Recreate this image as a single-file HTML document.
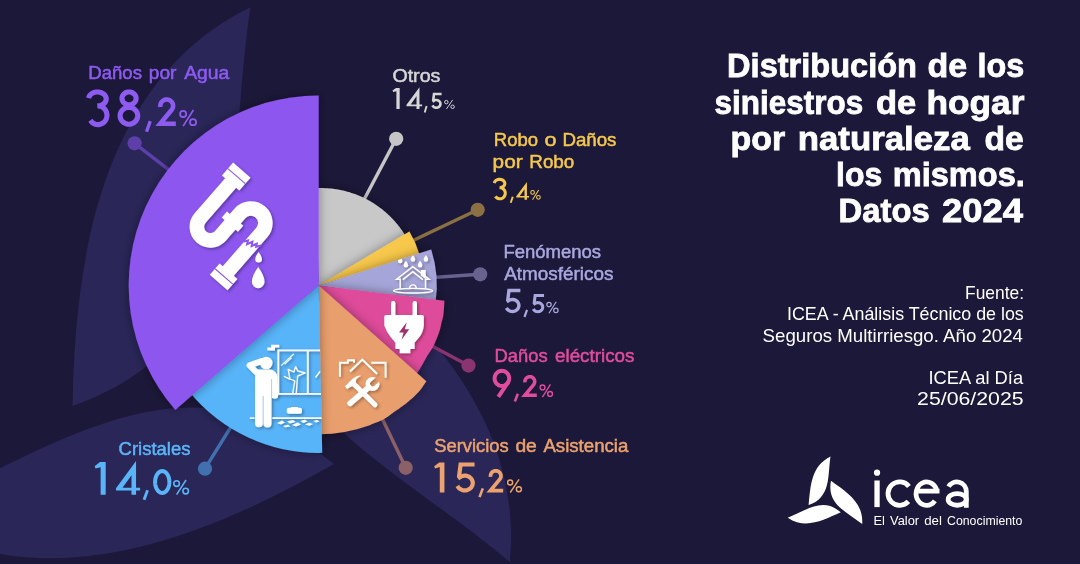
<!DOCTYPE html>
<html><head><meta charset="utf-8"><style>
html,body{margin:0;padding:0;background:#1c1839;}
svg{display:block;}
text{font-family:"Liberation Sans",sans-serif;}
</style></head><body>
<svg width="1080" height="564" viewBox="0 0 1080 564">
<defs>
<filter id="sh" x="-30%" y="-30%" width="160%" height="160%"><feDropShadow dx="0" dy="0" stdDeviation="5.5" flood-color="#000" flood-opacity="0.38"/></filter>
<filter id="ish" x="-20%" y="-20%" width="140%" height="140%"><feDropShadow dx="1.5" dy="1.5" stdDeviation="1.6" flood-color="#000" flood-opacity="0.35"/></filter>
<clipPath id="clipLav"><path d="M318.70 285.40 L431.21 249.49 A118.1 118.1 0 0 1 435.92 299.79 Z"/></clipPath>
</defs>
<rect width="1080" height="564" fill="#1c1839"/>
<path d="M3.72 -43.06 C-14.43 -34.17 -17.74 -12.74 -18.02 5.67 C4.5 -2.25 0.7 -23.2 3.72 -43.06 Z" transform=" translate(220 359.6) scale(8.18) rotate(0)" fill="#2a2658"/>
<path d="M3.72 -43.06 C-14.43 -34.17 -17.74 -12.74 -18.02 5.67 C4.5 -2.25 0.7 -23.2 3.72 -43.06 Z" transform="rotate(1.5 509.7 562) translate(220 359.6) scale(8.18) rotate(120)" fill="#2a2658"/>
<path d="M3.72 -43.06 C-14.43 -34.17 -17.74 -12.74 -18.02 5.67 C4.5 -2.25 0.7 -23.2 3.72 -43.06 Z" transform="rotate(-0.65 332 463) translate(220 359.6) scale(8.18) rotate(240)" fill="#2a2658"/>
<line x1="134.6" y1="143.3" x2="318.7" y2="285.4" stroke="#5d3fa9" stroke-width="3.4"/>
<line x1="396.2" y1="138.8" x2="318.7" y2="285.4" stroke="#c6c6c6" stroke-width="3.4"/>
<line x1="477.7" y1="209.8" x2="318.7" y2="285.4" stroke="#8a7042" stroke-width="3.4"/>
<line x1="480.2" y1="274.3" x2="318.7" y2="285.4" stroke="#66648f" stroke-width="3.4"/>
<line x1="468.5" y1="365.6" x2="318.7" y2="285.4" stroke="#8a3470" stroke-width="3.4"/>
<line x1="405.7" y1="467.8" x2="318.7" y2="285.4" stroke="#8b6066" stroke-width="3.4"/>
<line x1="205.0" y1="468.7" x2="318.7" y2="285.4" stroke="#4170ae" stroke-width="3.4"/>
<circle cx="134.6" cy="143.3" r="7.1" fill="#5d3fa9"/>
<circle cx="396.2" cy="138.8" r="7.1" fill="#c6c6c6"/>
<circle cx="477.7" cy="209.8" r="7.1" fill="#8a7042"/>
<circle cx="480.2" cy="274.3" r="7.1" fill="#66648f"/>
<circle cx="468.5" cy="365.6" r="7.1" fill="#8a3470"/>
<circle cx="405.7" cy="467.8" r="7.1" fill="#8b6066"/>
<circle cx="205.0" cy="468.7" r="7.1" fill="#4170ae"/>
<path d="M318.7 285.4 L316.15 188.13 L317.00 188.11 L317.85 188.10 L318.70 188.10 L319.55 188.08 L320.40 188.07 L321.25 188.07 L322.10 188.07 L322.95 188.08 L323.80 188.10 L324.65 188.13 L325.50 188.17 L326.35 188.21 L327.20 188.26 L328.05 188.31 L328.90 188.38 L329.75 188.45 L330.59 188.53 L331.44 188.61 L332.29 188.71 L333.14 188.81 L333.98 188.91 L334.83 189.03 L335.67 189.15 L336.51 189.28 L337.36 189.42 L338.20 189.57 L339.04 189.72 L339.88 189.88 L340.71 190.05 L341.55 190.22 L342.38 190.40 L343.22 190.59 L344.05 190.79 L344.88 190.99 L345.71 191.21 L346.54 191.42 L347.36 191.65 L348.19 191.88 L349.01 192.12 L349.83 192.37 L350.64 192.63 L351.46 192.89 L352.27 193.16 L353.08 193.43 L353.89 193.72 L354.70 194.01 L355.50 194.31 L356.31 194.61 L357.11 194.92 L357.90 195.24 L358.70 195.57 L359.49 195.90 L360.28 196.24 L361.06 196.59 L361.84 196.94 L362.62 197.30 L363.40 197.67 L364.18 198.04 L364.95 198.42 L365.71 198.81 L366.48 199.21 L367.24 199.61 L368.00 200.02 L368.75 200.43 L369.50 200.85 L370.25 201.28 L370.99 201.72 L371.73 202.16 L372.47 202.60 L373.20 203.06 L373.93 203.52 L374.65 203.99 L375.37 204.46 L376.09 204.94 L376.80 205.43 L377.51 205.92 L378.22 206.42 L378.92 206.92 L379.61 207.44 L380.30 207.95 L380.99 208.48 L381.67 209.01 L382.35 209.54 L383.03 210.09 L383.69 210.63 L384.36 211.19 L385.02 211.75 L385.67 212.31 L386.32 212.88 L386.97 213.46 L387.61 214.04 L388.24 214.63 L388.87 215.23 L389.50 215.83 L390.12 216.43 L390.73 217.04 L391.34 217.66 L391.95 218.28 L392.55 218.91 L393.14 219.54 L393.73 220.18 L394.31 220.82 L394.89 221.47 L395.46 222.13 L396.02 222.78 L396.59 223.45 L397.14 224.12 L397.69 224.79 L398.23 225.47 L398.77 226.15 L399.30 226.84 L399.83 227.53 L400.35 228.23 L400.86 228.93 L401.37 229.64 L401.87 230.35 L402.36 231.07 L402.85 231.79 L403.34 232.51 L403.81 233.24 L404.28 233.98 L404.75 234.71 L405.20 235.46 L405.66 236.20 Z" fill="#c8c8c8" filter="url(#sh)"/>
<path d="M318.70 285.40 L409.41 231.54 A105.5 105.5 0 0 1 419.86 255.44 Z" fill="#f8c84b" filter="url(#sh)"/>
<path d="M318.70 285.40 L431.21 249.49 A118.1 118.1 0 0 1 435.50 302.86 Z" fill="#a5a5d9" filter="url(#sh)"/>
<path d="M318.7 285.4 L444.40 300.80 L444.34 301.96 L444.25 303.62 L444.15 305.53 L444.03 307.47 L443.90 309.20 L443.78 310.70 L443.65 312.13 L443.51 313.52 L443.33 314.90 L443.10 316.30 L442.80 317.72 L442.44 319.14 L442.05 320.56 L441.66 321.98 L441.30 323.40 L440.99 324.80 L440.72 326.18 L440.45 327.57 L440.12 329.00 L439.70 330.50 L439.18 332.09 L438.57 333.75 L437.91 335.45 L437.22 337.17 L436.50 338.90 L435.78 340.63 L435.04 342.39 L434.26 344.15 L433.42 345.93 L432.50 347.70 L431.46 349.47 L430.30 351.25 L429.10 353.04 L427.92 354.82 L426.80 356.60 L425.76 358.41 L424.76 360.25 L423.79 362.07 L422.84 363.84 L421.90 365.50 L420.98 367.07 L420.08 368.58 L419.21 370.00 L418.35 371.35 L417.50 372.60 L416.61 373.80 L415.68 374.95 L414.79 376.00 L414.04 376.87 L413.50 377.50 Z" fill="#de4b9a" filter="url(#sh)"/>
<path d="M318.7 285.4 L426.30 381.30 L425.47 382.54 L424.32 384.29 L422.95 386.34 L421.44 388.45 L419.90 390.40 L418.28 392.22 L416.52 394.07 L414.67 395.89 L412.81 397.64 L411.00 399.30 L409.24 400.83 L407.48 402.27 L405.72 403.64 L403.96 404.98 L402.20 406.30 L400.43 407.61 L398.65 408.88 L396.86 410.12 L395.08 411.36 L393.30 412.60 L391.61 413.84 L390.02 415.08 L388.39 416.31 L386.56 417.55 L384.40 418.80 L381.58 420.17 L378.19 421.66 L374.73 423.11 L371.70 424.35 L369.59 425.23 A148.8 148.8 0 0 1 317.92 434.20 Z" fill="#e99f6d" filter="url(#sh)"/>
<path d="M318.70 285.40 L322.21 452.86 A167.5 167.5 0 0 1 189.45 391.94 Z" fill="#58b4f9" filter="url(#sh)"/>
<path d="M318.70 285.40 L175.31 410.05 A190.0 190.0 0 0 1 318.70 95.40 Z" fill="#8c56ef" filter="url(#sh)"/>
<g id="ic-pipe" filter="url(#ish)">
 <g transform="translate(230 183.7) rotate(41)">
  <path d="M0 -2 L0 45.5 A13.5 13.5 0 0 0 27 45.5 L27 16 A14.5 14.5 0 0 1 56 16 L56 68" fill="none" stroke="#fff" stroke-width="14.6"/>
  <rect x="-11.5" y="-18" width="23" height="17" fill="#fff"/>
  <line x1="-11.5" y1="-10" x2="11.5" y2="-10" stroke="#8c56ef" stroke-width="1.1"/>
  <rect x="16" y="23" width="21.5" height="8" fill="#fff"/>
  <rect x="44.5" y="67" width="23.5" height="15" fill="#fff"/>
  <line x1="44.5" y1="74" x2="68" y2="74" stroke="#8c56ef" stroke-width="1.1"/>
  <polyline points="48.3,34.8 50.8,31 52.6,34.5 55,29.2 57.2,32.8 59.6,27.8 61.2,30.5 63.8,26.2" fill="none" stroke="#8c56ef" stroke-width="2" stroke-linejoin="miter"/>
 </g>
 <path d="M258.6 252 Q261.9 256.5 261.9 259.2 A3.25 3.25 0 0 1 255.3 259.2 Q255.3 256.5 258.6 252 Z" fill="#fff"/>
 <path d="M258.2 266.9 Q264.5 275.5 264.5 281.9 A6.3 6.3 0 0 1 251.9 281.9 Q251.9 275.5 258.2 266.9 Z" fill="#fff"/>
</g>
<g id="ic-house" filter="url(#ish)" clip-path="url(#clipLav)">
 <g fill="#fff">
  <path d="M400.2 256.4 Q402.45 259.2 402.45 260.9 A2.25 2.25 0 0 1 397.95 260.9 Q397.95 259.2 400.2 256.4 Z"/>
  <path d="M412.9 254.9 Q415.15 257.7 415.15 259.4 A2.25 2.25 0 0 1 410.65 259.4 Q410.65 257.7 412.9 254.9 Z"/>
  <path d="M425.9 254.9 Q428.15 257.7 428.15 259.4 A2.25 2.25 0 0 1 423.65 259.4 Q423.65 257.7 425.9 254.9 Z"/>
  <path d="M405.9 260.7 Q408.15 263.5 408.15 265.2 A2.25 2.25 0 0 1 403.65 265.2 Q403.65 263.5 405.9 260.7 Z"/>
  <path d="M420.1 260.7 Q422.35 263.5 422.35 265.2 A2.25 2.25 0 0 1 417.85 265.2 Q417.85 263.5 420.1 260.7 Z"/>
  <path d="M420.9 275.4 L420.9 270.1 L425.7 270.1 L425.7 279 Z"/>
 </g>
 <g fill="none" stroke="#fff" stroke-width="1.4" stroke-linejoin="miter">
  <polyline points="400.2,288.8 400.2,279.3 396.6,279.3 412.8,266.6 429.2,279.3 425.5,279.3 425.5,288.8"/>
  <polyline points="402.9,279.6 412.8,271.6 422.8,279.6"/>
  <path d="M409.6 288.2 A3.3 3.3 0 0 1 416.2 288.2"/>
  <ellipse cx="413.1" cy="290.7" rx="19.5" ry="2.3" stroke-width="1.3"/>
 </g>
</g>
<g id="ic-plug" filter="url(#ish)">
 <g fill="#fff">
  <path d="M391 315.5 L391 303.2 A2.2 2.2 0 0 1 395.4 303.2 L395.4 315.5 Z"/>
  <path d="M412.6 315.5 L412.6 303.2 A2.2 2.2 0 0 1 417 303.2 L417 315.5 Z"/>
  <path d="M386 315 L422.2 315 Q423.8 315 423.8 316.6 L423.8 325.7 Q423 333 419 337.5 Q416.5 340.5 414.6 342.7 L414.6 349.1 L410.3 349.1 L410.3 353.3 L399.7 353.3 L399.7 349.1 L395.4 349.1 L395.4 342.7 Q393.5 340.5 391 337.5 Q387 333 384.3 325.7 L384.3 316.6 Q384.3 315 386 315 Z"/>
 </g>
 <path d="M406.8 322.3 L399.0 332.6 L403.6 332.6 L401.6 339.8 L409.2 329.2 L404.8 329.2 Z" fill="#9d2f6d"/>
</g>
<g id="ic-tools" filter="url(#ish)">
 <g fill="none" stroke="#fff" stroke-width="1.9" stroke-linejoin="miter">
  <polyline points="339.9,376.8 339.9,362.8 347.9,362.8 347.9,360.3 354,360.3 354,362.8"/>
  <polyline points="350,371.4 362.3,359.6 377.2,373.9" stroke-width="2.1"/>
  <polyline points="371.2,362.8 385.6,362.8 385.6,377.8"/>
 </g>
 <line x1="356.5" y1="386.5" x2="375" y2="404.8" stroke="#fff" stroke-width="5" stroke-linecap="round"/>
 <path d="M344.9 386.3 L347 384.5 L349.4 381.8 Q352.5 377.6 357.3 375.9 Q359.5 375.3 361.2 375.7 Q357.6 377.3 356.2 379.6 Q355.3 381.6 356.5 383.6 L358.3 385.3 L355.3 388.3 L352 386.2 L349.4 387.6 L347.2 389.2 Z" fill="#fff"/>
 <mask id="wmask" maskUnits="userSpaceOnUse" x="340" y="360" width="60" height="60"><rect x="340" y="360" width="60" height="60" fill="#fff"/><g transform="translate(372.5 384) rotate(49.1)"><path d="M-2.7 -12 L2.7 -12 L2.7 -0.3 A2.7 2.7 0 0 1 -2.7 -0.3 Z" fill="#000"/></g></mask>
 <g mask="url(#wmask)"><g transform="translate(372.5 384) rotate(49.1)" fill="#fff">
  <circle cx="0" cy="0" r="7"/>
 </g></g>
 <g transform="translate(372.5 384) rotate(49.1)">
  <line x1="0" y1="5" x2="0" y2="29.6" stroke="#fff" stroke-width="5.6" stroke-linecap="round"/>
 </g>
</g>
<clipPath id="clipBlue"><path d="M318.7 285.4 L322.2 452.4 A167 167 0 0 1 192.7 395.0 Z"/></clipPath>
<g id="ic-glass" filter="url(#ish)" clip-path="url(#clipBlue)">
 <g fill="#fff">
  <circle cx="266.2" cy="363" r="6.3"/>
  <path d="M255.1 396 L255.1 372 Q255.1 369.5 257.6 369.5 L269.5 369.5 Q276.3 369.8 277.6 377 L278.1 395.4 A3.25 3.25 0 0 1 271.6 395.4 L271.6 396 Z"/>
  <path d="M255.1 394 L262.8 394 L262.8 423.4 A3.85 3.85 0 0 1 255.1 423.4 Z"/>
  <path d="M263.4 394 L271.5 394 L271.5 423.4 A4.05 4.05 0 0 1 263.4 423.4 Z"/>
  <path d="M267.3 350.4 L267.3 347.6 L271 347.6 L271 344.8 L279.3 344.8 L279.3 347.6 L275 347.6 L275 350.4 Z"/>
  <path d="M286.8 409.6 Q286.8 407.8 289 407.8 L291 407.8 L291 406.9 L298 406.9 L298 407.8 L300 407.8 Q302 407.8 302 409.6 L302 412 Q302 413.8 300 413.8 L289 413.8 Q286.8 413.8 286.8 412 Z"/>
  <path d="M277 423 L282 420.5 L285 422.5 L281 424.5 Z M287 421.5 L293 420 L295.5 422 L290 423.5 Z M292 425 L297.5 422.5 L301 424.5 L296 426.5 Z M300.5 421 L305 419.8 L307.5 421.5 L303.5 423 Z M305 424.5 L309 422.8 L313 424 L309.5 425.8 Z M283 426 L288 424.8 L290.5 426.5 L285.5 427.3 Z M313.5 421 L317 420 L319.5 421.5 L316 422.5 Z"/>
 </g>
 <polyline points="256.5,372.5 249.6,365.4 261.5,361.2" fill="none" stroke="#fff" stroke-width="6" stroke-linecap="round" stroke-linejoin="round"/>
 <line x1="271.6" y1="379" x2="271.6" y2="396" stroke="#58b4f9" stroke-width="0.6"/>
 <g fill="none" stroke="#fff">
  <rect x="278.3" y="350.4" width="60" height="43.5" stroke-width="1.8"/>
  <line x1="307.8" y1="350.4" x2="307.8" y2="393.9" stroke-width="1.9"/>
  <line x1="249.8" y1="418.1" x2="254.5" y2="418.1" stroke-width="1.6"/>
  <line x1="272.5" y1="418.1" x2="322" y2="418.1" stroke-width="1.6"/>
  <polyline points="292.6,393.9 294.8,381 284.4,376.5 290,379.4 288.2,369.3 293.8,372 295.6,366.6 297.8,371 305.2,372.8 297.6,376.2 296.2,393.9" stroke-width="1.3" stroke-linejoin="round"/>
  <line x1="281.2" y1="365.6" x2="293.8" y2="353.8" stroke-width="1.1"/>
  <line x1="284.6" y1="364.2" x2="291.6" y2="357.8" stroke-width="1.1"/>
  <line x1="315.5" y1="377.5" x2="320.3" y2="371.2" stroke-width="1.4"/>
 </g>
</g>

<path d="M3.7 -43 C-16.1 -33.2 -16.1 -13.1 -18.2 5.7 C4.5 -2.25 0.7 -23.2 3.7 -43 Z" transform=" translate(826.8 499.4) scale(1) rotate(0)" fill="#ffffff"/>
<path d="M3.7 -43 C-16.1 -33.2 -16.1 -13.1 -18.2 5.7 C4.5 -2.25 0.7 -23.2 3.7 -43 Z" transform=" translate(826.8 499.4) scale(1) rotate(120)" fill="#ffffff"/>
<path d="M3.7 -43 C-16.1 -33.2 -16.1 -13.1 -18.2 5.7 C4.5 -2.25 0.7 -23.2 3.7 -43 Z" transform=" translate(826.8 499.4) scale(1) rotate(240)" fill="#ffffff"/>
<g style="will-change:transform">
<text x="88.20" y="79.4" font-size="18" fill="#8e5bf1" stroke="#8e5bf1" stroke-width="0.5" textLength="53.80" lengthAdjust="spacingAndGlyphs">Daños</text>
<text x="148.80" y="79.4" font-size="18" fill="#8e5bf1" stroke="#8e5bf1" stroke-width="0.5" textLength="27.60" lengthAdjust="spacingAndGlyphs">por</text>
<text x="184.20" y="79.4" font-size="18" fill="#8e5bf1" stroke="#8e5bf1" stroke-width="0.5" textLength="45.20" lengthAdjust="spacingAndGlyphs">Agua</text>
<text x="392.40" y="81.5" font-size="18" fill="#d6d6d6" stroke="#d6d6d6" stroke-width="0.5" textLength="48.00" lengthAdjust="spacingAndGlyphs">Otros</text>
<text x="493.80" y="145.5" font-size="18" fill="#f5c84d" stroke="#f5c84d" stroke-width="0.5" textLength="44.20" lengthAdjust="spacingAndGlyphs">Robo</text>
<text x="544.60" y="145.5" font-size="18" fill="#f5c84d" stroke="#f5c84d" stroke-width="0.5" textLength="12.00" lengthAdjust="spacingAndGlyphs">o</text>
<text x="562.40" y="145.5" font-size="18" fill="#f5c84d" stroke="#f5c84d" stroke-width="0.5" textLength="54.00" lengthAdjust="spacingAndGlyphs">Daños</text>
<text x="492.60" y="167.8" font-size="18" fill="#f5c84d" stroke="#f5c84d" stroke-width="0.5" textLength="30.00" lengthAdjust="spacingAndGlyphs">por</text>
<text x="529.30" y="167.8" font-size="18" fill="#f5c84d" stroke="#f5c84d" stroke-width="0.5" textLength="45.00" lengthAdjust="spacingAndGlyphs">Robo</text>
<text x="503.40" y="257.6" font-size="18" fill="#a8a8de" stroke="#a8a8de" stroke-width="0.5" textLength="97.60" lengthAdjust="spacingAndGlyphs">Fenómenos</text>
<text x="504.20" y="280.2" font-size="18" fill="#a8a8de" stroke="#a8a8de" stroke-width="0.5" textLength="109.20" lengthAdjust="spacingAndGlyphs">Atmosféricos</text>
<text x="494.60" y="361.9" font-size="18" fill="#e04d9d" stroke="#e04d9d" stroke-width="0.5" textLength="53.00" lengthAdjust="spacingAndGlyphs">Daños</text>
<text x="555.00" y="361.9" font-size="18" fill="#e04d9d" stroke="#e04d9d" stroke-width="0.5" textLength="79.40" lengthAdjust="spacingAndGlyphs">eléctricos</text>
<text x="434.20" y="452.3" font-size="18" fill="#eca26f" stroke="#eca26f" stroke-width="0.5" textLength="74.60" lengthAdjust="spacingAndGlyphs">Servicios</text>
<text x="515.40" y="452.3" font-size="18" fill="#eca26f" stroke="#eca26f" stroke-width="0.5" textLength="21.40" lengthAdjust="spacingAndGlyphs">de</text>
<text x="543.40" y="452.3" font-size="18" fill="#eca26f" stroke="#eca26f" stroke-width="0.5" textLength="85.00" lengthAdjust="spacingAndGlyphs">Asistencia</text>
<text x="118.60" y="455.0" font-size="18" fill="#5ab5f8" stroke="#5ab5f8" stroke-width="0.5" textLength="71.80" lengthAdjust="spacingAndGlyphs">Cristales</text>
<text x="727.10" y="77.4" font-size="32.5" fill="#ffffff" font-weight="bold" stroke="#fff" stroke-width="0.8" textLength="189.90" lengthAdjust="spacingAndGlyphs">Distribución</text>
<text x="927.50" y="77.4" font-size="32.5" fill="#ffffff" font-weight="bold" stroke="#fff" stroke-width="0.8" textLength="39.70" lengthAdjust="spacingAndGlyphs">de</text>
<text x="977.50" y="77.4" font-size="32.5" fill="#ffffff" font-weight="bold" stroke="#fff" stroke-width="0.8" textLength="46.80" lengthAdjust="spacingAndGlyphs">los</text>
<text x="714.60" y="113.7" font-size="32.5" fill="#ffffff" font-weight="bold" stroke="#fff" stroke-width="0.8" textLength="148.60" lengthAdjust="spacingAndGlyphs">siniestros</text>
<text x="875.90" y="113.7" font-size="32.5" fill="#ffffff" font-weight="bold" stroke="#fff" stroke-width="0.8" textLength="40.30" lengthAdjust="spacingAndGlyphs">de</text>
<text x="926.40" y="113.7" font-size="32.5" fill="#ffffff" font-weight="bold" stroke="#fff" stroke-width="0.8" textLength="98.00" lengthAdjust="spacingAndGlyphs">hogar</text>
<text x="730.60" y="149.9" font-size="32.5" fill="#ffffff" font-weight="bold" stroke="#fff" stroke-width="0.8" textLength="54.60" lengthAdjust="spacingAndGlyphs">por</text>
<text x="797.80" y="149.9" font-size="32.5" fill="#ffffff" font-weight="bold" stroke="#fff" stroke-width="0.8" textLength="172.00" lengthAdjust="spacingAndGlyphs">naturaleza</text>
<text x="984.50" y="149.9" font-size="32.5" fill="#ffffff" font-weight="bold" stroke="#fff" stroke-width="0.8" textLength="39.30" lengthAdjust="spacingAndGlyphs">de</text>
<text x="836.10" y="186.1" font-size="32.5" fill="#ffffff" font-weight="bold" stroke="#fff" stroke-width="0.8" textLength="46.20" lengthAdjust="spacingAndGlyphs">los</text>
<text x="892.70" y="186.1" font-size="32.5" fill="#ffffff" font-weight="bold" stroke="#fff" stroke-width="0.8" textLength="132.10" lengthAdjust="spacingAndGlyphs">mismos.</text>
<text x="838.60" y="222.0" font-size="32.5" fill="#ffffff" font-weight="bold" stroke="#fff" stroke-width="0.8" textLength="91.10" lengthAdjust="spacingAndGlyphs">Datos</text>
<text x="942.00" y="222.0" font-size="32.5" fill="#ffffff" font-weight="bold" stroke="#fff" stroke-width="0.8" textLength="81.00" lengthAdjust="spacingAndGlyphs">2024</text>
<text x="965.00" y="298.9" font-size="18.5" fill="#ffffff" textLength="59.00" lengthAdjust="spacingAndGlyphs">Fuente:</text>
<text x="787.00" y="320.1" font-size="18.5" fill="#ffffff" textLength="236.80" lengthAdjust="spacingAndGlyphs">ICEA - Análisis Técnico de los</text>
<text x="762.60" y="341.5" font-size="18.5" fill="#ffffff" textLength="260.40" lengthAdjust="spacingAndGlyphs">Seguros Multirriesgo. Año 2024</text>
<text x="928.40" y="384.1" font-size="18.5" fill="#ffffff" textLength="94.70" lengthAdjust="spacingAndGlyphs">ICEA al Día</text>
<text x="917.10" y="404.5" font-size="18.5" fill="#ffffff" textLength="106.50" lengthAdjust="spacingAndGlyphs">25/06/2025</text>
<text x="873.40" y="524.7" font-size="12.9" fill="#ffffff" textLength="11.50" lengthAdjust="spacingAndGlyphs">El</text>
<text x="890.00" y="524.7" font-size="12.9" fill="#ffffff" textLength="29.10" lengthAdjust="spacingAndGlyphs">Valor</text>
<text x="924.20" y="524.7" font-size="12.9" fill="#ffffff" textLength="17.70" lengthAdjust="spacingAndGlyphs">del</text>
<text x="947.00" y="524.7" font-size="12.9" fill="#ffffff" textLength="75.40" lengthAdjust="spacingAndGlyphs">Conocimiento</text>
</g>
<path d="M88.65 98.21 L88.99 96.90 L89.63 95.67 L90.56 94.55 L91.75 93.60 L93.14 92.84 L94.69 92.31 L96.34 92.02 L98.02 91.99 L99.69 92.21 L101.27 92.67 L102.71 93.37 L103.96 94.28 L104.96 95.35 L105.69 96.56 L106.11 97.85 L106.21 99.19 L105.99 100.51 L105.46 101.78 L104.63 102.94 L103.53 103.96 L102.21 104.79 L100.71 105.41 L99.09 105.79 L97.41 105.91 L97.96 105.91 L99.20 106.00 L100.41 106.27 L101.57 106.70 L102.67 107.30 L103.68 108.05 L104.58 108.94 L105.35 109.95 L105.99 111.05 L106.47 112.24 L106.79 113.49 L106.94 114.77 L106.92 116.06 L106.73 117.33 L106.38 118.57 L105.86 119.74 L105.20 120.83 L104.40 121.81 L103.47 122.67 L102.44 123.39 L101.33 123.95 L100.15 124.35 L98.93 124.58 L97.69 124.63 L96.46 124.50 L95.26 124.20 L94.10 123.73 L93.02 123.10 L92.04 122.31 L91.16 121.40 L90.42 120.37" stroke="#8e5bf1" stroke-width="5.14" fill="none"/>
<path d="M136.10 98.39 L136.01 97.39 L135.75 96.41 L135.33 95.48 L134.75 94.62 L134.03 93.85 L133.19 93.20 L132.25 92.67 L131.23 92.28 L130.15 92.05 L129.05 91.97 L127.95 92.05 L126.87 92.28 L125.85 92.67 L124.91 93.20 L124.07 93.85 L123.35 94.62 L122.77 95.48 L122.35 96.41 L122.09 97.39 L122.00 98.39 L122.09 99.40 L122.35 100.38 L122.77 101.31 L123.35 102.17 L124.07 102.93 L124.91 103.59 L125.85 104.11 L126.87 104.50 L127.95 104.73 L129.05 104.81 L130.15 104.73 L131.23 104.50 L132.25 104.11 L133.19 103.59 L134.03 102.93 L134.75 102.17 L135.33 101.31 L135.75 100.38 L136.01 99.40 L136.10 98.39 Z" stroke="#8e5bf1" stroke-width="5.14" fill="none"/>
<path d="M137.71 115.75 L137.60 114.43 L137.28 113.14 L136.75 111.92 L136.03 110.79 L135.13 109.78 L134.08 108.92 L132.90 108.23 L131.63 107.72 L130.28 107.41 L128.90 107.31 L127.53 107.41 L126.18 107.72 L124.90 108.23 L123.73 108.92 L122.68 109.78 L121.78 110.79 L121.06 111.92 L120.53 113.14 L120.20 114.43 L120.10 115.75 L120.20 117.07 L120.53 118.36 L121.06 119.58 L121.78 120.71 L122.68 121.72 L123.73 122.58 L124.90 123.27 L126.18 123.78 L127.53 124.09 L128.90 124.19 L130.28 124.09 L131.63 123.78 L132.90 123.27 L134.08 122.58 L135.13 121.72 L136.03 120.71 L136.75 119.58 L137.28 118.36 L137.60 117.07 L137.71 115.75 Z" stroke="#8e5bf1" stroke-width="5.14" fill="none"/>
<path d="M150.28 121.10 L146.52 131.70" stroke="#8e5bf1" stroke-width="3.28" fill="none"/>
<path d="M160.41 106.98 L160.32 106.14 L160.34 105.29 L160.48 104.45 L160.72 103.64 L161.06 102.87 L161.51 102.15 L162.05 101.50 L162.67 100.92 L163.36 100.43 L164.11 100.04 L164.90 99.74 L165.73 99.56 L166.57 99.48 L167.42 99.52 L168.25 99.67 L169.05 99.93 L169.82 100.29 L170.53 100.76 L171.17 101.31 L171.74 101.94 L172.21 102.64 L172.59 103.39 L172.87 104.20 L173.03 105.03 L173.09 105.87 L173.03 106.71 L172.87 107.54 L172.59 108.35 L172.21 109.10 L171.74 109.80 L160.17 123.82 L175.81 123.82" stroke="#8e5bf1" stroke-width="4.57" fill="none"/>
<circle cx="183.14" cy="113.94" r="3.06" stroke="#8e5bf1" stroke-width="1.77" fill="none"/>
<circle cx="193.06" cy="122.16" r="3.06" stroke="#8e5bf1" stroke-width="1.77" fill="none"/>
<line x1="193.44" y1="110.00" x2="183.12" y2="126.10" stroke="#8e5bf1" stroke-width="1.68"/>
<path d="M392.50 90.54 L395.98 87.90 L399.67 87.90 L399.67 109.00 L396.40 109.00 L396.40 91.17 L393.13 92.12 Z" fill="#d6d6d6" fill-rule="evenodd"/>
<path d="M419.48 87.27 L419.48 104.46 L422.11 104.46 L422.11 106.36 L419.48 106.36 L419.48 109.00 L416.52 109.00 L416.52 106.36 L406.50 106.36 L406.50 104.78 Z M416.52 104.46 L416.52 96.34 L410.72 104.46 Z" fill="#d6d6d6" fill-rule="evenodd"/>
<path d="M426.61 106.10 L424.69 112.50" stroke="#d6d6d6" stroke-width="1.88" fill="none"/>
<path d="M441.58 93.99 L434.00 93.99 L433.19 100.36 L433.60 100.92 L434.17 100.55 L434.80 100.27 L435.47 100.09 L436.16 100.02 L436.86 100.05 L437.53 100.19 L438.18 100.44 L438.77 100.77 L439.29 101.20 L439.73 101.70 L440.08 102.25 L440.31 102.86 L440.44 103.49 L440.45 104.13 L440.34 104.76 L440.13 105.37 L439.80 105.94 L439.38 106.45 L438.87 106.89 L438.29 107.24 L437.65 107.50 L436.98 107.66 L436.28 107.71 L435.59 107.66 L434.92 107.50 L434.28 107.24 L433.70 106.88 L433.19 106.45 L432.77 105.94 L432.45 105.37" stroke="#d6d6d6" stroke-width="2.58" fill="none"/>
<circle cx="446.33" cy="102.13" r="1.73" stroke="#d6d6d6" stroke-width="1.00" fill="none"/>
<circle cx="452.57" cy="106.77" r="1.73" stroke="#d6d6d6" stroke-width="1.00" fill="none"/>
<line x1="452.66" y1="99.90" x2="446.45" y2="109.00" stroke="#d6d6d6" stroke-width="0.95"/>
<path d="M494.34 183.06 L494.54 182.28 L494.93 181.54 L495.49 180.88 L496.19 180.31 L497.02 179.85 L497.95 179.54 L498.93 179.36 L499.94 179.34 L500.93 179.47 L501.87 179.75 L502.73 180.17 L503.48 180.71 L504.08 181.35 L504.51 182.07 L504.76 182.84 L504.82 183.64 L504.69 184.43 L504.37 185.19 L503.88 185.88 L503.22 186.49 L502.43 186.98 L501.54 187.35 L500.57 187.58 L499.57 187.66 L499.90 187.66 L500.64 187.71 L501.36 187.87 L502.06 188.13 L502.71 188.48 L503.31 188.93 L503.85 189.46 L504.31 190.06 L504.69 190.72 L504.97 191.43 L505.17 192.17 L505.26 192.94 L505.25 193.71 L505.13 194.47 L504.92 195.20 L504.61 195.90 L504.22 196.55 L503.74 197.14 L503.19 197.65 L502.57 198.08 L501.91 198.42 L501.21 198.66 L500.48 198.79 L499.74 198.82 L499.00 198.75 L498.29 198.57 L497.60 198.28 L496.95 197.91 L496.36 197.44 L495.84 196.90 L495.40 196.28" stroke="#f5c84d" stroke-width="3.07" fill="none"/>
<path d="M512.77 196.70 L510.73 202.80" stroke="#f5c84d" stroke-width="1.96" fill="none"/>
<path d="M526.94 181.88 L526.94 195.98 L529.10 195.98 L529.10 197.54 L526.94 197.54 L526.94 199.70 L524.52 199.70 L524.52 197.54 L516.30 197.54 L516.30 196.24 Z M524.52 195.98 L524.52 189.32 L519.76 195.98 Z" fill="#f5c84d" fill-rule="evenodd"/>
<circle cx="532.58" cy="192.38" r="1.84" stroke="#f5c84d" stroke-width="1.07" fill="none"/>
<circle cx="538.42" cy="197.32" r="1.84" stroke="#f5c84d" stroke-width="1.07" fill="none"/>
<line x1="538.68" y1="190.00" x2="532.53" y2="199.70" stroke="#f5c84d" stroke-width="1.01"/>
<path d="M520.36 290.41 L508.97 290.41 L507.74 300.21 L508.22 300.88 L509.11 300.31 L510.08 299.87 L511.13 299.60 L512.20 299.48 L513.28 299.54 L514.34 299.75 L515.34 300.13 L516.26 300.66 L517.08 301.32 L517.76 302.10 L518.29 302.97 L518.66 303.91 L518.86 304.89 L518.87 305.89 L518.71 306.88 L518.37 307.83 L517.87 308.72 L517.21 309.51 L516.42 310.20 L515.51 310.75 L514.52 311.15 L513.47 311.40 L512.39 311.48 L511.31 311.40 L510.27 311.15 L509.28 310.75 L508.37 310.19 L507.58 309.51 L506.93 308.71 L506.42 307.83" stroke="#a8a8de" stroke-width="3.43" fill="none"/>
<path d="M527.05 309.90 L524.45 317.00" stroke="#a8a8de" stroke-width="2.19" fill="none"/>
<path d="M544.06 295.52 L535.13 295.52 L534.17 303.02 L534.66 303.68 L535.33 303.25 L536.07 302.92 L536.85 302.71 L537.67 302.62 L538.49 302.66 L539.29 302.83 L540.04 303.11 L540.74 303.51 L541.36 304.01 L541.87 304.60 L542.28 305.25 L542.56 305.96 L542.71 306.71 L542.72 307.46 L542.60 308.21 L542.34 308.93 L541.96 309.60 L541.46 310.20 L540.86 310.71 L540.17 311.13 L539.42 311.43 L538.63 311.62 L537.81 311.68 L537.00 311.62 L536.20 311.43 L535.45 311.13 L534.77 310.71 L534.17 310.19 L533.67 309.59 L533.29 308.92" stroke="#a8a8de" stroke-width="3.03" fill="none"/>
<circle cx="548.99" cy="304.59" r="2.17" stroke="#a8a8de" stroke-width="1.25" fill="none"/>
<circle cx="555.91" cy="310.41" r="2.17" stroke="#a8a8de" stroke-width="1.25" fill="none"/>
<line x1="556.20" y1="301.80" x2="548.95" y2="313.20" stroke="#a8a8de" stroke-width="1.19"/>
<path d="M509.19 378.38 L509.10 377.20 L508.83 376.04 L508.39 374.94 L507.80 373.93 L507.05 373.02 L506.18 372.25 L505.21 371.63 L504.15 371.17 L503.04 370.90 L501.90 370.80 L500.75 370.90 L499.64 371.17 L498.58 371.63 L497.61 372.25 L496.74 373.02 L495.99 373.93 L495.40 374.94 L494.96 376.04 L494.69 377.20 L494.60 378.38 L494.69 379.57 L494.96 380.72 L495.40 381.82 L495.99 382.84 L496.74 383.74 L497.61 384.51 L498.58 385.13 L499.64 385.59 L500.75 385.87 L501.90 385.96 L503.04 385.87 L504.15 385.59 L505.21 385.13 L506.18 384.51 L507.05 383.74 L507.80 382.84 L508.39 381.82 L508.83 380.72 L509.10 379.57 L509.19 378.38 Z" stroke="#e04d9d" stroke-width="4.00" fill="none"/>
<path d="M508.33 381.94 L498.32 396.80" stroke="#e04d9d" stroke-width="4.00" fill="none"/>
<path d="M517.85 393.70 L514.85 401.50" stroke="#e04d9d" stroke-width="2.57" fill="none"/>
<path d="M524.96 382.41 L524.89 381.77 L524.91 381.12 L525.01 380.47 L525.19 379.85 L525.46 379.26 L525.80 378.70 L526.22 378.20 L526.69 377.76 L527.22 377.38 L527.80 377.08 L528.41 376.85 L529.04 376.71 L529.69 376.65 L530.34 376.68 L530.98 376.80 L531.60 377.00 L532.19 377.28 L532.73 377.63 L533.23 378.05 L533.66 378.54 L534.02 379.08 L534.32 379.66 L534.53 380.27 L534.66 380.91 L534.70 381.56 L534.66 382.21 L534.53 382.85 L534.32 383.46 L534.02 384.04 L533.66 384.58 L524.78 395.35 L536.79 395.35" stroke="#e04d9d" stroke-width="3.51" fill="none"/>
<circle cx="542.54" cy="387.44" r="2.43" stroke="#e04d9d" stroke-width="1.41" fill="none"/>
<circle cx="550.06" cy="393.96" r="2.43" stroke="#e04d9d" stroke-width="1.41" fill="none"/>
<line x1="550.44" y1="384.30" x2="542.44" y2="397.10" stroke="#e04d9d" stroke-width="1.34"/>
<path d="M434.20 466.16 L439.17 462.40 L444.43 462.40 L444.43 492.50 L439.77 492.50 L439.77 467.07 L435.10 468.42 Z" fill="#eca26f" fill-rule="evenodd"/>
<path d="M474.57 464.51 L460.57 464.51 L459.07 476.55 L459.66 477.37 L460.75 476.66 L461.94 476.13 L463.22 475.79 L464.54 475.65 L465.87 475.71 L467.17 475.98 L468.40 476.45 L469.53 477.09 L470.53 477.91 L471.37 478.86 L472.03 479.93 L472.48 481.08 L472.72 482.29 L472.74 483.52 L472.54 484.74 L472.12 485.91 L471.50 487.00 L470.69 487.97 L469.72 488.81 L468.61 489.49 L467.40 489.99 L466.11 490.29 L464.78 490.39 L463.46 490.29 L462.17 489.98 L460.95 489.48 L459.84 488.81 L458.87 487.97 L458.06 486.99 L457.44 485.90" stroke="#eca26f" stroke-width="4.21" fill="none"/>
<path d="M482.79 488.40 L479.51 497.10" stroke="#eca26f" stroke-width="2.69" fill="none"/>
<path d="M490.60 476.89 L490.52 476.20 L490.54 475.51 L490.65 474.82 L490.85 474.16 L491.13 473.53 L491.49 472.94 L491.93 472.41 L492.44 471.94 L493.00 471.54 L493.61 471.22 L494.26 470.98 L494.94 470.83 L495.62 470.77 L496.32 470.80 L497.00 470.92 L497.65 471.13 L498.28 471.43 L498.86 471.80 L499.38 472.25 L499.84 472.77 L500.23 473.34 L500.54 473.96 L500.77 474.61 L500.90 475.29 L500.95 475.98 L500.90 476.67 L500.77 477.35 L500.54 478.00 L500.23 478.62 L499.84 479.19 L490.40 490.64 L503.17 490.64" stroke="#eca26f" stroke-width="3.73" fill="none"/>
<circle cx="510.13" cy="482.53" r="2.51" stroke="#eca26f" stroke-width="1.45" fill="none"/>
<circle cx="518.87" cy="489.27" r="2.51" stroke="#eca26f" stroke-width="1.45" fill="none"/>
<line x1="519.06" y1="479.30" x2="510.24" y2="492.50" stroke="#eca26f" stroke-width="1.38"/>
<path d="M94.60 466.18 L99.98 462.10 L105.68 462.10 L105.68 494.70 L100.63 494.70 L100.63 467.15 L95.58 468.62 Z" fill="#5ab5f8" fill-rule="evenodd"/>
<path d="M136.05 461.12 L136.05 487.69 L140.12 487.69 L140.12 490.62 L136.05 490.62 L136.05 494.70 L131.49 494.70 L131.49 490.62 L116.00 490.62 L116.00 488.18 Z M131.49 487.69 L131.49 475.14 L122.52 487.69 Z" fill="#5ab5f8" fill-rule="evenodd"/>
<path d="M147.57 490.30 L144.03 499.80" stroke="#5ab5f8" stroke-width="2.91" fill="none"/>
<path d="M169.38 482.00 L169.32 480.57 L169.14 479.17 L168.84 477.81 L168.43 476.53 L167.91 475.34 L167.29 474.26 L166.59 473.31 L165.81 472.52 L164.98 471.89 L164.09 471.43 L163.18 471.15 L162.24 471.05 L161.31 471.15 L160.40 471.43 L159.51 471.89 L158.68 472.52 L157.90 473.31 L157.20 474.26 L156.58 475.34 L156.06 476.53 L155.65 477.81 L155.35 479.17 L155.17 480.57 L155.11 482.00 L155.17 483.43 L155.35 484.83 L155.65 486.19 L156.06 487.47 L156.58 488.66 L157.20 489.74 L157.90 490.69 L158.68 491.48 L159.51 492.11 L160.40 492.57 L161.31 492.85 L162.24 492.95 L163.18 492.85 L164.09 492.57 L164.98 492.11 L165.81 491.48 L166.59 490.69 L167.29 489.74 L167.91 488.66 L168.43 487.47 L168.84 486.19 L169.14 484.83 L169.32 483.43 L169.38 482.00 Z" stroke="#5ab5f8" stroke-width="4.01" fill="none"/>
<circle cx="176.60" cy="483.60" r="2.79" stroke="#5ab5f8" stroke-width="1.62" fill="none"/>
<circle cx="185.70" cy="491.10" r="2.79" stroke="#5ab5f8" stroke-width="1.62" fill="none"/>
<line x1="186.04" y1="480.00" x2="176.59" y2="494.70" stroke="#5ab5f8" stroke-width="1.54"/>
<g fill="none" stroke="#fff" stroke-width="4.8">
 <path d="M908.92 486.40 A11.7 11.7 0 1 0 908.39 501.43"/>
 <path d="M916.10 491.2 L939.50 491.2 M936.87 491.17 A10.5 11.7 0 1 0 934.87 500.80"/>
 <path d="M948.6 486.6 A9.5 9.5 0 0 1 966.3 491.4 L966.3 507.7"/>
 <ellipse cx="957.2" cy="499.4" rx="9.05" ry="5.85"/>
</g>
<rect x="874.4" y="480.5" width="5.3" height="26.6" fill="#fff"/>
<circle cx="877.05" cy="472.7" r="3.1" fill="#fff"/>
</svg>
</body></html>
